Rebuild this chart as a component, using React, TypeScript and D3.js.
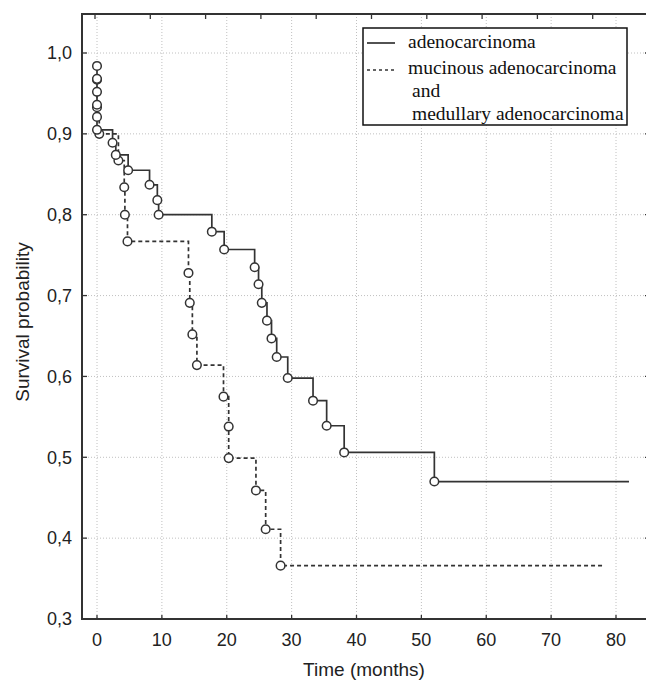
import React from "react"
import * as d3 from "d3"

// Kaplan-Meier events: [time in months, survival after the event]
const adenoEvents: [number, number][] = [
  [0, 0.984], [0, 0.968], [0, 0.952], [0, 0.936], [0, 0.921], [0, 0.905],
  [2.4, 0.889], [2.9, 0.874], [4.8, 0.855], [8.1, 0.837], [9.3, 0.818],
  [9.5, 0.8], [17.7, 0.779], [19.6, 0.757], [24.3, 0.735], [24.9, 0.714],
  [25.4, 0.691], [26.2, 0.669], [26.9, 0.647], [27.7, 0.624], [29.4, 0.598],
  [33.3, 0.57], [35.4, 0.539], [38.1, 0.506], [52.0, 0.47],
]
const adenoEnd = 82.0

const mucinousEvents: [number, number][] = [
  [0, 0.967], [0, 0.933], [0.35, 0.9], [3.3, 0.867], [4.2, 0.834],
  [4.3, 0.8], [4.7, 0.767], [14.1, 0.728], [14.3, 0.691], [14.7, 0.652],
  [15.4, 0.614], [19.5, 0.575], [20.3, 0.538], [20.3, 0.499], [24.5, 0.459],
  [26.0, 0.411], [28.3, 0.366],
]
const mucinousEnd = 78.0

const xTicks = [0, 10, 20, 30, 40, 50, 60, 70, 80]
const yTicks = [0.3, 0.4, 0.5, 0.6, 0.7, 0.8, 0.9, 1.0]
const topTicks = d3.range(0, 11)
const legendLines = ["adenocarcinoma", "mucinous adenocarcinoma", "and", "medullary adenocarcinoma"]

const width = 646
const height = 680
const frame = { left: 82, right: 649, top: 14, bottom: 619 }

const x = d3.scaleLinear().domain([0, 80]).range([97, 616])
const y = d3.scaleLinear().domain([0.3, 1.0]).range([619, 53])
const xTop = d3.scaleLinear().domain([0, 10]).range([95, 648])

const line = d3
  .line<[number, number]>()
  .x(d => x(d[0]))
  .y(d => y(d[1]))
  .curve(d3.curveStepAfter)

const stepPath = (events: [number, number][], end: number) => {
  const last = events[events.length - 1][1]
  return line([...events, [end, last]]) || ""
}

const ink = "#333"
const fmt = (v: number) => v.toFixed(1).replace(".", ",")

const App = () => {
  return (
    <svg
      width={width}
      height={height}
      style={{ position: "absolute", left: 0, top: 0, background: "#fff" }}
    >
      <rect width={width} height={height} fill="#fff" />
      <g stroke="#c0c0c0" strokeWidth={1} strokeDasharray="1,2">
        {xTicks.map(t => (
          <line key={"gx" + t} x1={x(t)} x2={x(t)} y1={frame.top} y2={frame.bottom} />
        ))}
        {yTicks.map(t => (
          <line key={"gy" + t} x1={frame.left} x2={frame.right} y1={y(t)} y2={y(t)} />
        ))}
      </g>

      <g stroke={ink} strokeWidth={1.3}>
        {xTicks.map(t => (
          <line key={"tx" + t} x1={x(t)} x2={x(t)} y1={frame.bottom} y2={frame.bottom - 4} />
        ))}
        {yTicks.map(t => (
          <line key={"tl" + t} x1={frame.left} x2={frame.left + 5} y1={y(t)} y2={y(t)} />
        ))}
        {yTicks.map(t => (
          <line key={"tr" + t} x1={frame.right} x2={frame.right - 4} y1={y(t)} y2={y(t)} />
        ))}
        {topTicks.map(t => (
          <line key={"tt" + t} x1={xTop(t)} x2={xTop(t)} y1={frame.top} y2={frame.top + 5} />
        ))}
      </g>

      <rect
        x={frame.left}
        y={frame.top}
        width={frame.right - frame.left}
        height={frame.bottom - frame.top}
        fill="none"
        stroke={ink}
        strokeWidth={2}
      />

      <path d={stepPath(adenoEvents, adenoEnd)} fill="none" stroke={ink} strokeWidth={1.7} />
      <path
        d={stepPath(mucinousEvents, mucinousEnd)}
        fill="none"
        stroke={ink}
        strokeWidth={1.7}
        strokeDasharray="4,3"
      />

      <g fill="#fff" stroke={ink} strokeWidth={1.5}>
        {mucinousEvents.map((d, i) => (
          <circle key={"m" + i} cx={x(d[0])} cy={y(d[1])} r={4.3} />
        ))}
        {adenoEvents.map((d, i) => (
          <circle key={"a" + i} cx={x(d[0])} cy={y(d[1])} r={4.3} />
        ))}
      </g>

      <g fontFamily="'Liberation Sans', Arial, sans-serif" fontSize={18} fill="#222">
        {xTicks.map(t => (
          <text key={"lx" + t} x={x(t)} y={646} textAnchor="middle">
            {t}
          </text>
        ))}
        {yTicks.map(t => (
          <text key={"ly" + t} x={72} y={y(t)} dy="0.35em" textAnchor="end">
            {fmt(t)}
          </text>
        ))}
      </g>

      <text
        x={364}
        y={676}
        textAnchor="middle"
        fontFamily="'Liberation Sans', Arial, sans-serif"
        fontSize={19}
        fill="#222"
      >
        Time (months)
      </text>
      <text
        transform="translate(29, 322) rotate(-90)"
        textAnchor="middle"
        fontFamily="'Liberation Sans', Arial, sans-serif"
        fontSize={19}
        fill="#222"
      >
        Survival probability
      </text>

      <g>
        <rect x={363} y={28} width={264} height={97} fill="#fff" stroke="#111" strokeWidth={1.5} />
        <line x1={367} x2={395} y1={43} y2={43} stroke={ink} strokeWidth={1.7} />
        <line x1={367} x2={396} y1={70} y2={70} stroke={ink} strokeWidth={1.7} strokeDasharray="3,3" />
        <g fontFamily="'Liberation Serif', 'Times New Roman', serif" fontSize={19.5} fill="#111">
          <text x={408} y={48}>{legendLines[0]}</text>
          <text x={408} y={74}>{legendLines[1]}</text>
          <text x={412} y={97}>{legendLines[2]}</text>
          <text x={412} y={120}>{legendLines[3]}</text>
        </g>
      </g>
    </svg>
  )
}

export default App
